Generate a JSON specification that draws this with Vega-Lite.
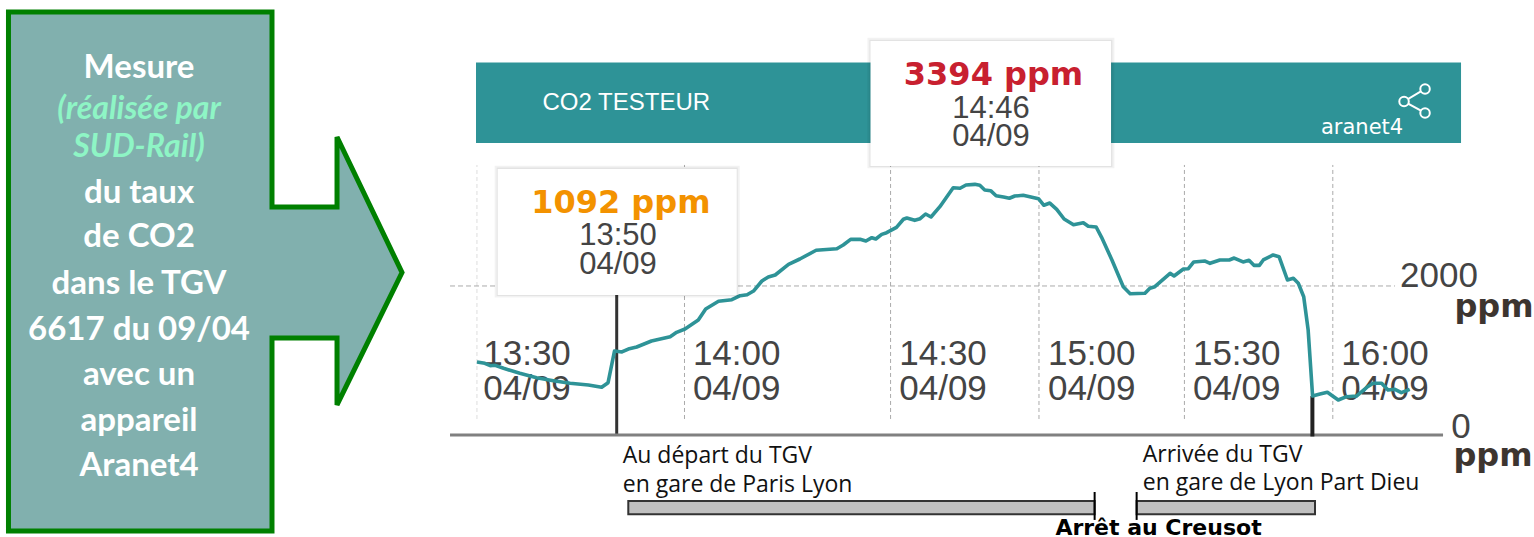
{
"$schema":"https://vega.github.io/schema/vega-lite/v6.json",
"width":1534,"height":537,"padding":0,
"autosize":{"type":"none"},
"background":"#ffffff",
"config":{"view":{"stroke":null}},
"encoding":{
"x":{"field":"x","type":"quantitative","axis":null,"scale":{"domain":[-78.74,232.41],"nice":false,"zero":false}},
"y":{"field":"ppm","type":"quantitative","axis":null,"scale":{"domain":[-1369,5838],"nice":false,"zero":false}}
},
"layer":[
{"data":{"values":[{"i":1,"x":-77.02,"ppm":5677},{"i":2,"x":-23.57,"ppm":5677},{"i":3,"x":-23.57,"ppm":3060},{"i":4,"x":-10.38,"ppm":3060},{"i":5,"x":-10.38,"ppm":3999},{"i":6,"x":2.8,"ppm":2181},{"i":7,"x":-10.38,"ppm":403},{"i":8,"x":-10.38,"ppm":1302},{"i":9,"x":-23.57,"ppm":1302},{"i":10,"x":-23.57,"ppm":-1288},{"i":11,"x":-77.02,"ppm":-1288},{"i":12,"x":-77.02,"ppm":5677},{"i":13,"x":-23.57,"ppm":5677}]},
"mark":{"type":"line","fill":"#81b0ae","stroke":"#008000","strokeWidth":5,"strokeJoin":"miter","strokeCap":"butt"},
"encoding":{"order":{"field":"i","type":"quantitative"}}},
{"data":{"values":[{"t":"Mesure","x":-50.54,"ppm":4791},{"t":"du taux","x":-50.54,"ppm":3118},{"t":"de CO2","x":-50.54,"ppm":2518},{"t":"dans le TGV","x":-50.54,"ppm":1895},{"t":"6617 du 09/04","x":-50.54,"ppm":1277},{"t":"avec un","x":-50.54,"ppm":673},{"t":"appareil","x":-50.54,"ppm":54},{"t":"Aranet4","x":-50.54,"ppm":-550}]},
"mark":{"type":"text","font":"Lato","fontWeight":"bold","fontSize":33,"color":"#ffffff","align":"center","baseline":"alphabetic"},
"encoding":{"text":{"field":"t"}}},
{"data":{"values":[{"t":"(réalisée par","x":-50.54,"ppm":4246},{"t":"SUD-Rail)","x":-50.54,"ppm":3731}]},
"mark":{"type":"text","font":"Lato","fontWeight":"bold","fontStyle":"italic","fontSize":32,"color":"#8ef5c5","align":"center","baseline":"alphabetic"},
"encoding":{"text":{"field":"t"}}},
{"data":{"values":[{"x":17.81,"x2":217.61,"ppm":3919,"ppm2":4999}]},
"mark":{"type":"rect","color":"#2e9397"},
"encoding":{"x2":{"field":"x2"},"y2":{"field":"ppm2"}}},
{"data":{"values":[{"x":18,"ppm":215,"ppm2":3624}]},
"mark":{"type":"rule","stroke":"#dddddd","strokeWidth":1,"strokeDash":[4,3]},
"encoding":{"y2":{"field":"ppm2"}}},
{"data":{"values":[{"x":60.1,"ppm":215,"ppm2":3624},{"x":101.9,"ppm":215,"ppm2":3624},{"x":132,"ppm":215,"ppm2":3624},{"x":161.5,"ppm":215,"ppm2":3624},{"x":191.6,"ppm":215,"ppm2":3624}]},
"mark":{"type":"rule","stroke":"#aaaaaa","strokeWidth":1,"strokeDash":[4,3]},
"encoding":{"y2":{"field":"ppm2"}}},
{"data":{"values":[{"x":12.54,"x2":204.22,"ppm":2000}]},
"mark":{"type":"rule","stroke":"#aaaaaa","strokeWidth":1,"strokeDash":[5,3]},
"encoding":{"x2":{"field":"x2"}}},
{"data":{"values":[{"t":"13:30","x":28.16,"ppm":1087},{"t":"04/09","x":28.16,"ppm":618},{"t":"14:00","x":70.69,"ppm":1087},{"t":"04/09","x":70.69,"ppm":618},{"t":"14:30","x":112.54,"ppm":1087},{"t":"04/09","x":112.54,"ppm":618},{"t":"15:00","x":142.7,"ppm":1087},{"t":"04/09","x":142.7,"ppm":618},{"t":"15:30","x":172.11,"ppm":1087},{"t":"04/09","x":172.11,"ppm":618},{"t":"16:00","x":202.19,"ppm":1087},{"t":"04/09","x":202.19,"ppm":618},{"t":"2000","x":213.15,"ppm":2138},{"t":"0","x":217.61,"ppm":112}]},
"mark":{"type":"text","font":"Liberation Sans","fontSize":35,"color":"#444444","align":"center","baseline":"middle"},
"encoding":{"text":{"field":"t"}}},
{"data":{"values":[{"x":46.35,"ppm":0,"ppm2":1879}]},
"mark":{"type":"rule","stroke":"#333333","strokeWidth":3},
"encoding":{"y2":{"field":"ppm2"}}},
{"data":{"values":[{"x":12.54,"x2":213.96,"ppm":0}]},
"mark":{"type":"rule","stroke":"#808080","strokeWidth":3},
"encoding":{"x2":{"field":"x2"}}},
{"data":{"values":[{"x":187.46,"ppm":-20,"ppm2":523}]},
"mark":{"type":"rule","stroke":"#222222","strokeWidth":4},
"encoding":{"y2":{"field":"ppm2"}}},
{"data":{"values":[{"x":18.0,"ppm":980},{"x":19.6,"ppm":962},{"x":20.7,"ppm":930},{"x":21.7,"ppm":935},{"x":23.4,"ppm":895},{"x":26.7,"ppm":828},{"x":30.1,"ppm":769},{"x":33.5,"ppm":729},{"x":36.9,"ppm":694},{"x":40.6,"ppm":671},{"x":43.3,"ppm":640},{"x":44.6,"ppm":702},{"x":45.9,"ppm":1127},{"x":47.4,"ppm":1114},{"x":48.7,"ppm":1154},{"x":50.4,"ppm":1181},{"x":53.4,"ppm":1261},{"x":57.2,"ppm":1319},{"x":58.5,"ppm":1378},{"x":60.2,"ppm":1423},{"x":62.9,"ppm":1543},{"x":64.4,"ppm":1691},{"x":67.0,"ppm":1794},{"x":69.7,"ppm":1816},{"x":71.4,"ppm":1869},{"x":72.8,"ppm":1883},{"x":74.1,"ppm":1932},{"x":75.8,"ppm":2067},{"x":77.1,"ppm":2120},{"x":78.5,"ppm":2147},{"x":81.2,"ppm":2291},{"x":83.5,"ppm":2362},{"x":86.8,"ppm":2479},{"x":91.0,"ppm":2500},{"x":92.3,"ppm":2550},{"x":93.8,"ppm":2626},{"x":95.7,"ppm":2626},{"x":96.9,"ppm":2603},{"x":98.1,"ppm":2648},{"x":98.9,"ppm":2630},{"x":100.1,"ppm":2693},{"x":101.1,"ppm":2715},{"x":103.1,"ppm":2787},{"x":104.5,"ppm":2895},{"x":105.2,"ppm":2912},{"x":106.8,"ppm":2881},{"x":107.9,"ppm":2903},{"x":109.0,"ppm":2966},{"x":110.1,"ppm":2926},{"x":111.9,"ppm":3064},{"x":114.6,"ppm":3319},{"x":116.0,"ppm":3311},{"x":117.2,"ppm":3355},{"x":119.0,"ppm":3364},{"x":120.0,"ppm":3351},{"x":121.0,"ppm":3288},{"x":122.2,"ppm":3279},{"x":123.3,"ppm":3211},{"x":124.8,"ppm":3194},{"x":126.0,"ppm":3177},{"x":127.1,"ppm":3207},{"x":128.8,"ppm":3217},{"x":131.9,"ppm":3171},{"x":133.0,"ppm":3083},{"x":134.2,"ppm":3113},{"x":135.6,"ppm":3029},{"x":137.1,"ppm":2899},{"x":139.0,"ppm":2822},{"x":141.0,"ppm":2849},{"x":142.0,"ppm":2801},{"x":143.6,"ppm":2791},{"x":144.7,"ppm":2653},{"x":146.8,"ppm":2349},{"x":149.1,"ppm":1990},{"x":150.5,"ppm":1896},{"x":153.5,"ppm":1902},{"x":154.5,"ppm":1969},{"x":155.5,"ppm":1990},{"x":158.6,"ppm":2170},{"x":159.4,"ppm":2134},{"x":161.3,"ppm":2228},{"x":162.3,"ppm":2232},{"x":163.4,"ppm":2322},{"x":165.7,"ppm":2335},{"x":166.7,"ppm":2304},{"x":168.7,"ppm":2349},{"x":170.6,"ppm":2349},{"x":171.6,"ppm":2375},{"x":173.4,"ppm":2322},{"x":174.6,"ppm":2344},{"x":175.6,"ppm":2277},{"x":176.7,"ppm":2277},{"x":177.5,"ppm":2349},{"x":179.5,"ppm":2416},{"x":180.7,"ppm":2393},{"x":182.4,"ppm":2080},{"x":183.6,"ppm":2103},{"x":184.6,"ppm":2036},{"x":185.7,"ppm":1856},{"x":186.6,"ppm":1409},{"x":187.5,"ppm":523},{"x":189.0,"ppm":550},{"x":190.5,"ppm":573},{"x":192.7,"ppm":470},{"x":194.4,"ppm":514},{"x":196.4,"ppm":523},{"x":198.5,"ppm":640},{"x":199.8,"ppm":694},{"x":201.5,"ppm":694},{"x":202.8,"ppm":604},{"x":204.2,"ppm":613},{"x":205.5,"ppm":568},{"x":207.2,"ppm":613}]},
"mark":{"type":"line","stroke":"#2e9397","strokeWidth":3.6,"strokeJoin":"round"}},
{"data":{"values":[{"x":21.6,"x2":71.3,"ppm":1845,"ppm2":3615},{"x":97.2,"x2":147.3,"ppm":3580,"ppm2":5330}]},
"mark":{"type":"rect","color":"#000000","opacity":0.05},
"encoding":{"x2":{"field":"x2"},"y2":{"field":"ppm2"}}},
{"data":{"values":[{"x":22.0,"x2":70.9,"ppm":1865,"ppm2":3590},{"x":97.6,"x2":146.9,"ppm":3597,"ppm2":5305}]},
"mark":{"type":"rect","color":"#000000","opacity":0.06},
"encoding":{"x2":{"field":"x2"},"y2":{"field":"ppm2"}}},
{"data":{"values":[{"x":22.21,"x2":70.69,"ppm":1879,"ppm2":3570},{"x":97.83,"x2":146.62,"ppm":3610,"ppm2":5288}]},
"mark":{"type":"rect","color":"#ffffff"},
"encoding":{"x2":{"field":"x2"},"y2":{"field":"ppm2"}}},
{"data":{"values":[{"t":"1092 ppm","x":47.18,"ppm":2976}]},
"mark":{"type":"text","font":"DejaVu Sans","fontWeight":"bold","fontSize":32,"color":"#f39200","align":"center","baseline":"alphabetic"},
"encoding":{"text":{"field":"t"}}},
{"data":{"values":[{"t":"3394 ppm","x":122.78,"ppm":4697}]},
"mark":{"type":"text","font":"DejaVu Sans","fontWeight":"bold","fontSize":32,"color":"#c8202f","align":"center","baseline":"alphabetic"},
"encoding":{"text":{"field":"t"}}},
{"data":{"values":[{"t":"13:50","x":46.62,"ppm":2671},{"t":"04/09","x":46.62,"ppm":2282},{"t":"14:46","x":122.28,"ppm":4375},{"t":"04/09","x":122.28,"ppm":4003}]},
"mark":{"type":"text","font":"Liberation Sans","fontSize":31,"color":"#444444","align":"center","baseline":"middle"},
"encoding":{"text":{"field":"t"}}},
{"data":{"values":[{"t":"CO2 TESTEUR","x":31.3,"ppm":4456}]},
"mark":{"type":"text","font":"Liberation Sans","fontSize":24,"color":"#ffffff","align":"left","baseline":"middle"},
"encoding":{"text":{"field":"t"}}},
{"data":{"values":[{"t":"aranet4","x":197.53,"ppm":4120}]},
"mark":{"type":"text","font":"DejaVu Sans","fontSize":21,"color":"#ffffff","align":"center","baseline":"middle"},
"encoding":{"text":{"field":"t"}}},
{"data":{"values":[{"i":1,"x":210.31,"ppm":4644},{"i":2,"x":206.05,"ppm":4476},{"i":3,"x":210.31,"ppm":4322}]},
"mark":{"type":"line","stroke":"#ffffff","strokeWidth":2},
"encoding":{"order":{"field":"i","type":"quantitative"}}},
{"data":{"values":[{"x":210.31,"ppm":4644},{"x":206.05,"ppm":4476},{"x":210.31,"ppm":4322}]},
"mark":{"type":"point","filled":true,"fill":"#2e9397","stroke":"#ffffff","strokeWidth":2,"size":90,"opacity":1}},
{"data":{"values":[{"t":"ppm","x":224.3,"ppm":1588},{"t":"ppm","x":224.1,"ppm":-416}]},
"mark":{"type":"text","font":"DejaVu Sans","fontWeight":"bold","fontSize":32,"color":"#3d3530","align":"center","baseline":"alphabetic"},
"encoding":{"text":{"field":"t"}}},
{"data":{"values":[{"t":"Au départ du TGV","x":47.57,"ppm":-375},{"t":"en gare de Paris Lyon","x":47.57,"ppm":-761},{"t":"Arrivée du TGV","x":153.05,"ppm":-358},{"t":"en gare de Lyon Part Dieu","x":153.05,"ppm":-738}]},
"mark":{"type":"text","font":"Open Sans","fontSize":23,"color":"#111111","align":"left","baseline":"alphabetic"},
"encoding":{"text":{"field":"t"}}},
{"data":{"values":[{"x":48.7,"x2":143.29,"ppm":-885,"ppm2":-1064},{"x":151.81,"x2":187.99,"ppm":-885,"ppm2":-1064}]},
"mark":{"type":"rect","fill":"#c0c0c0","stroke":"#333333","strokeWidth":2},
"encoding":{"x2":{"field":"x2"},"y2":{"field":"ppm2"}}},
{"data":{"values":[{"x":143.29,"ppm":-765,"ppm2":-1140},{"x":151.81,"ppm":-765,"ppm2":-1140}]},
"mark":{"type":"rule","stroke":"#000000","strokeWidth":2},
"encoding":{"y2":{"field":"ppm2"}}},
{"data":{"values":[{"t":"Arrêt au Creusot","x":156.25,"ppm":-1342}]},
"mark":{"type":"text","font":"DejaVu Sans","fontWeight":"bold","fontSize":22,"color":"#000000","align":"center","baseline":"alphabetic"},
"encoding":{"text":{"field":"t"}}}
]
}
